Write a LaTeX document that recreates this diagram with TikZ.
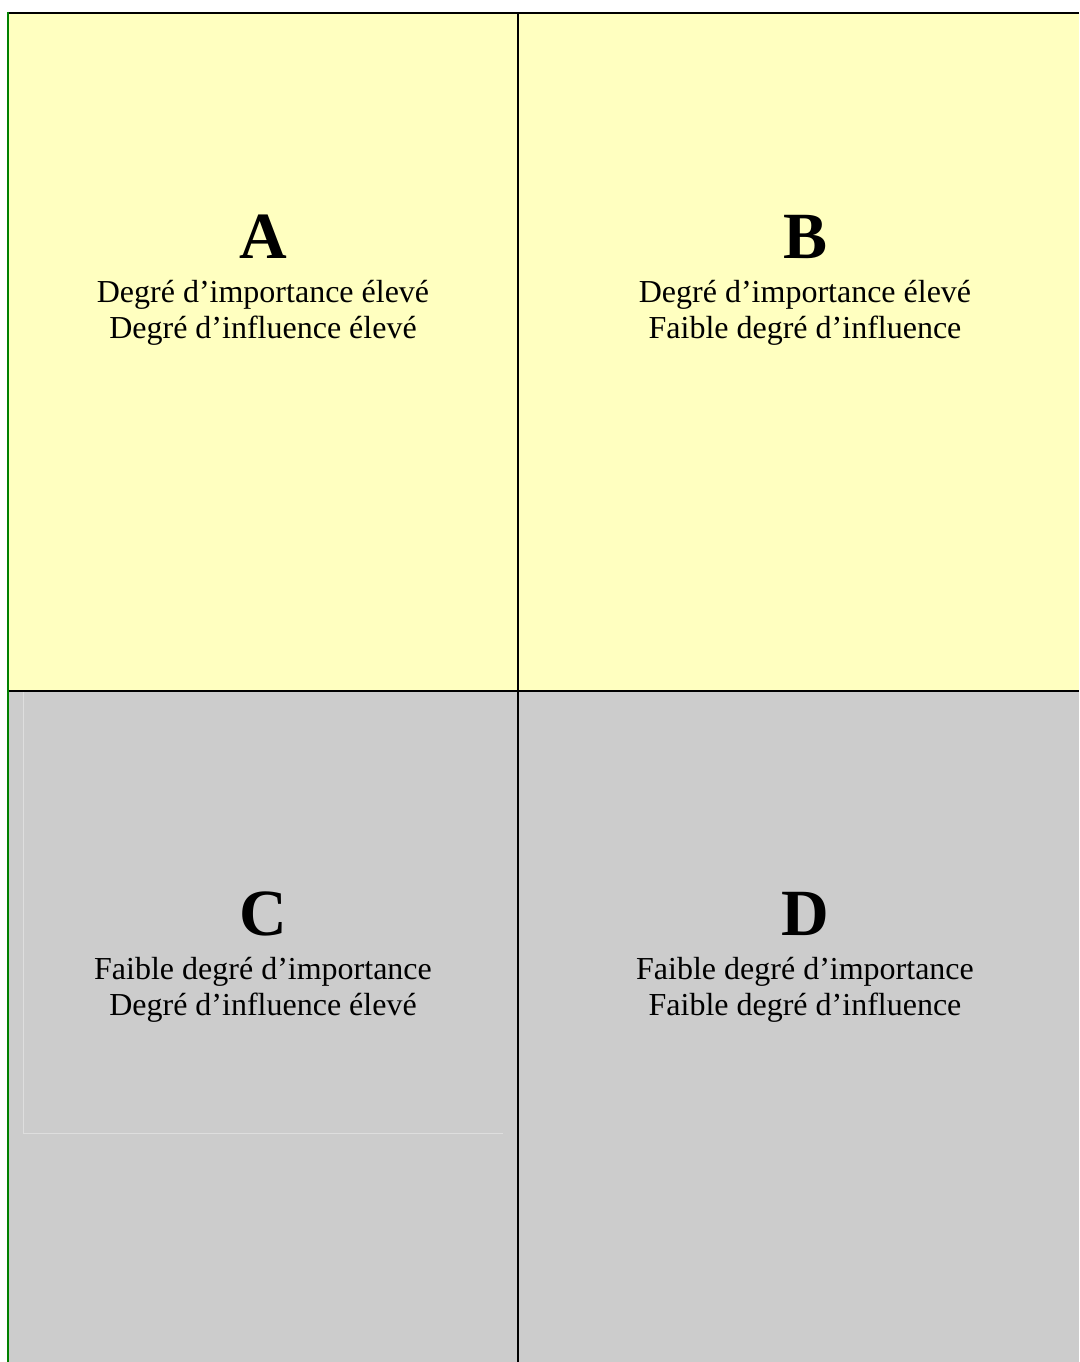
\documentclass[tikz,border=0pt]{standalone}
\usepackage{fontspec}
\setmainfont{Liberation Serif}
\definecolor{cellyellow}{RGB}{255,255,192}
\definecolor{cellgray}{RGB}{204,204,204}
\definecolor{faintline}{RGB}{222,222,222}
\definecolor{leftgreen}{RGB}{0,128,0}
\begin{document}
\begin{tikzpicture}[x=1pt,y=-1pt,
  bigletter/.style={font=\fontsize{66}{70}\selectfont\bfseries, inner sep=0pt, anchor=base},
  celltext/.style={font=\fontsize{32}{36.5}\selectfont, inner sep=0pt, anchor=base},
  gridline/.style={line width=2pt, black},
]
\useasboundingbox (0,0) rectangle (1079,1362);
\fill[white] (0,0) rectangle (1079,1362);
% cells
\fill[cellyellow] (8,13) rectangle (1079,691);
\fill[cellgray] (8,691) rectangle (1079,1362);
% faint inner lines in C
\draw[faintline, line width=1pt] (23.5,692) -- (23.5,1133) -- (503,1133);
% grid
\coordinate (tl) at (8,13);
\coordinate (tr) at (1079,13);
\coordinate (ml) at (8,691);
\coordinate (mr) at (1079,691);
\coordinate (vt) at (518,13);
\coordinate (vb) at (518,1362);
\coordinate (bl) at (8,1362);
\draw[gridline] (ml) -- (mr);
\draw[gridline] (vt) -- (vb);
\draw[gridline] (tl) -- (tr);
\draw[line width=2pt, leftgreen] (8,12) -- (bl);
% texts
\node[bigletter] (A) at (263,258) {A};
\node[celltext] (A1) at (263,302) {Degré d’importance élevé};
\node[celltext] (A2) at (263,338.5) {Degré d’influence élevé};
\node[bigletter] (B) at (805,258) {B};
\node[celltext] (B1) at (805,302) {Degré d’importance élevé};
\node[celltext] (B2) at (805,338.5) {Faible degré d’influence};
\node[bigletter] (C) at (263,935) {C};
\node[celltext] (C1) at (263,979) {Faible degré d’importance};
\node[celltext] (C2) at (263,1015.5) {Degré d’influence élevé};
\node[bigletter] (D) at (805,935) {D};
\node[celltext] (D1) at (805,979) {Faible degré d’importance};
\node[celltext] (D2) at (805,1015.5) {Faible degré d’influence};
\end{tikzpicture}
\end{document}
